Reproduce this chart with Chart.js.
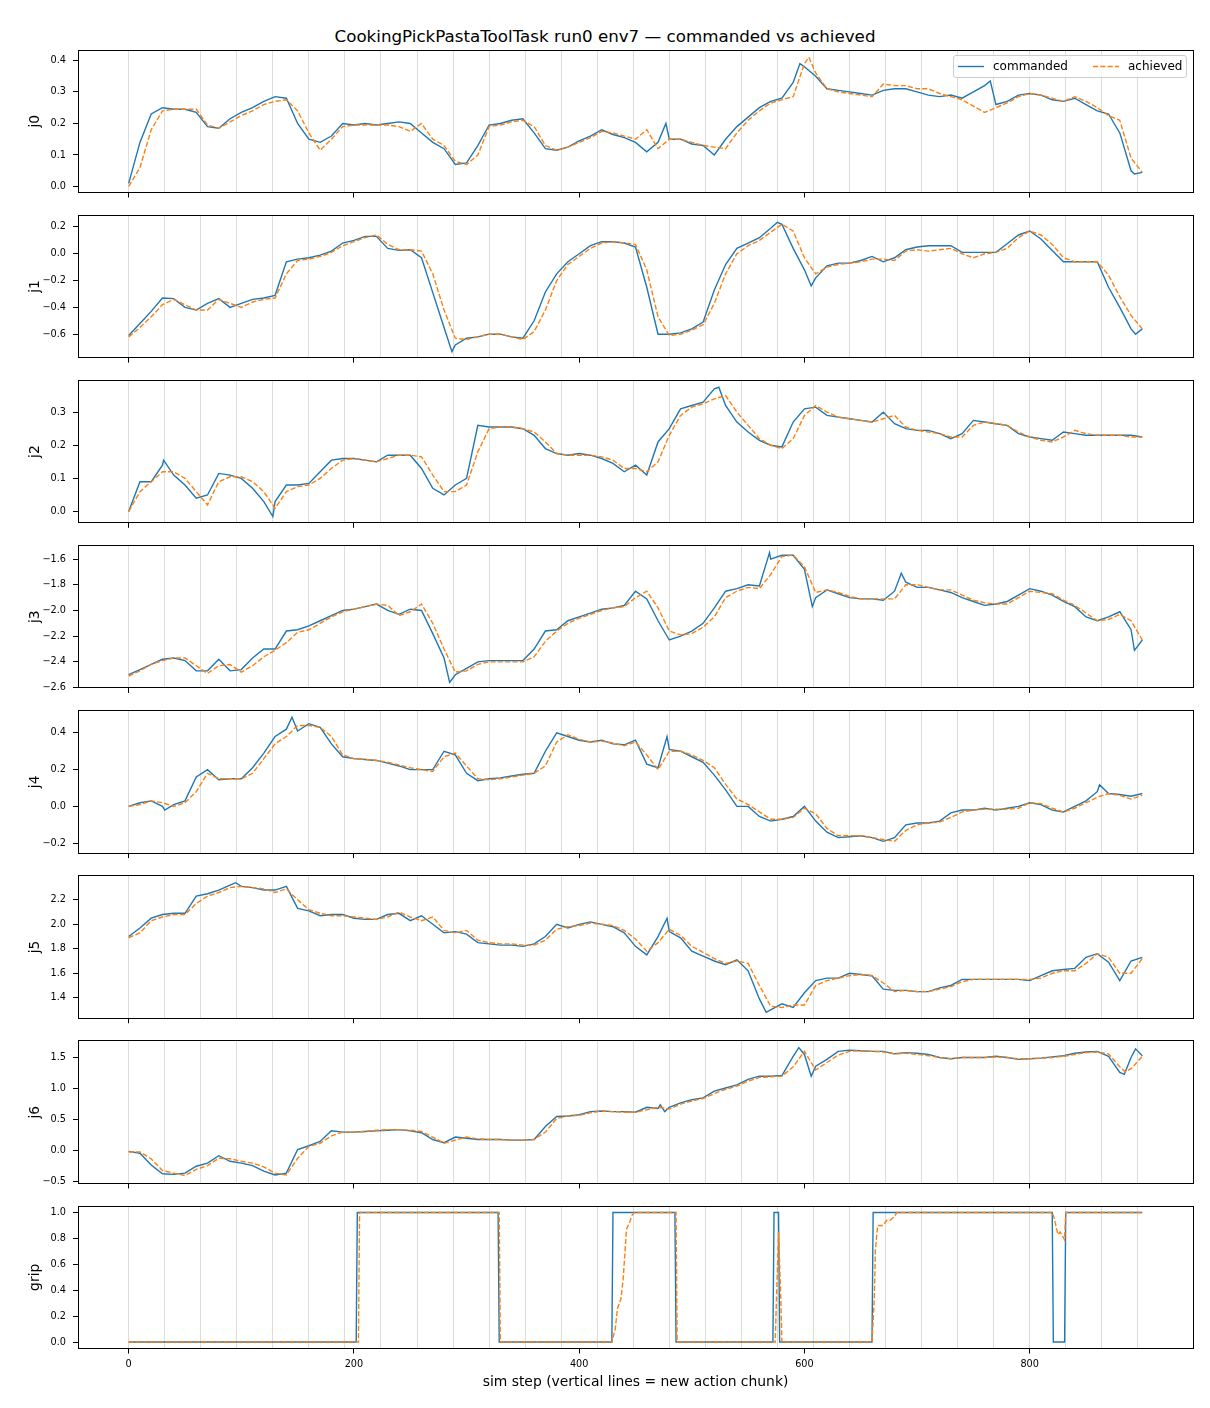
<!DOCTYPE html>
<html>
<head>
<meta charset="utf-8">
<script src="https://cdn.jsdelivr.net/npm/chart.js@4.4.1/dist/chart.umd.min.js"></script>
<style>
  body { margin: 0; background: #fff; }
  #fig { position: relative; width: 1210px; height: 1408px; font-family: "DejaVu Sans", sans-serif; color: #000; }
  #title { position: absolute; left: 0; width: 1210px; top: 25px; line-height: 22px; text-align: center; font-size: 16.7px; }
  canvas { position: absolute; left: 0; }
  #legend { position: absolute; left: 953px; top: 55px; width: 232px; height: 21px; border: 1px solid #cccccc;
            border-radius: 3px; background: rgba(255,255,255,0.8); z-index: 2; font-size: 12px; }
  #legend svg { position: absolute; left: 0; top: 0; }
  #legend span { position: absolute; top: 3px; line-height: 15px; white-space: nowrap; }
</style>
</head>
<body>
<div id="fig">
  <div id="title">CookingPickPastaToolTask run0 env7 — commanded vs achieved</div>
  <div id="legend">
    <svg width="232" height="21">
      <line x1="4" y1="10.5" x2="30" y2="10.5" stroke="#1f77b4" stroke-width="1.4"/>
      <line x1="139" y1="10.5" x2="165" y2="10.5" stroke="#ff7f0e" stroke-width="1.4" stroke-dasharray="5.1 2.2"/>
    </svg>
    <span style="left:39px">commanded</span>
    <span style="left:174px">achieved</span>
  </div>
</div>
<script>
// sim steps sampled from the plot
const STEPS = [
  0, 10, 20, 30, 40, 50, 60, 70, 80, 90,
  100, 110, 120, 130, 140, 150, 160, 170, 180, 190,
  200, 210, 220, 230, 240, 250, 260, 270, 280, 290,
  300, 310, 320, 330, 340, 350, 360, 370, 380, 390,
  400, 410, 420, 430, 440, 450, 460, 470, 480, 490,
  500, 510, 520, 530, 540, 550, 560, 570, 580, 590,
  600, 610, 620, 630, 640, 650, 660, 670, 680, 690,
  700, 710, 720, 730, 740, 750, 760, 770, 780, 790,
  800, 810, 820, 830, 840, 850, 860, 870, 880, 890,
  900
];
const X_TICKS = [0, 200, 400, 600, 800];
const CHUNK_STARTS = [0, 32, 64, 96, 128, 160, 192, 224, 256, 288, 320, 352, 384, 416, 448,
  480, 512, 544, 576, 608, 640, 672, 704, 736, 768, 800, 832, 864, 896];

const J0_CMD = [
  0.01, 0.14, 0.23, 0.25, 0.245, 0.245, 0.235, 0.19, 0.185, 0.215,
  0.235, 0.25, 0.27, 0.285, 0.28, 0.2, 0.15, 0.14, 0.16, 0.2,
  0.195, 0.2, 0.195, 0.2, 0.205, 0.2, 0.17, 0.14, 0.12, 0.07,
  0.075, 0.13, 0.195, 0.2, 0.21, 0.215, 0.17, 0.12, 0.115, 0.125,
  0.145, 0.16, 0.18, 0.165, 0.155, 0.14, 0.11, 0.14, 0.15, 0.15,
  0.135, 0.13, 0.1, 0.15, 0.19, 0.22, 0.25, 0.27, 0.28, 0.33,
  0.38, 0.35, 0.31, 0.305, 0.3, 0.295, 0.29, 0.305, 0.31, 0.31,
  0.3, 0.29, 0.285, 0.29, 0.28, 0.3, 0.32, 0.26, 0.27, 0.29,
  0.295, 0.29, 0.275, 0.27, 0.28, 0.26, 0.24, 0.23, 0.17, 0.05,
  0.045
];
const J0_ACH = [
  0.0, 0.06, 0.18, 0.24, 0.245, 0.245, 0.245, 0.195, 0.185, 0.205,
  0.225, 0.24, 0.26, 0.27, 0.275, 0.24, 0.17, 0.115, 0.15, 0.19,
  0.195, 0.195, 0.195, 0.195, 0.19, 0.175, 0.2, 0.15, 0.13, 0.08,
  0.07, 0.1, 0.19, 0.195, 0.205, 0.21, 0.19, 0.13, 0.115, 0.125,
  0.14, 0.155, 0.175, 0.17, 0.16, 0.15, 0.18, 0.12, 0.15, 0.15,
  0.14, 0.13, 0.125, 0.12, 0.17, 0.21, 0.24, 0.265, 0.275, 0.285,
  0.39, 0.36, 0.31, 0.3, 0.295, 0.29, 0.285, 0.325, 0.32, 0.32,
  0.31, 0.31, 0.295, 0.285, 0.275, 0.255, 0.235, 0.25, 0.265, 0.285,
  0.295, 0.29, 0.28, 0.27, 0.285, 0.27, 0.25, 0.225, 0.21, 0.09,
  0.045
];

const J1_CMD = [
  -0.61, -0.52, -0.43, -0.33, -0.335, -0.4, -0.42, -0.37, -0.335, -0.4,
  -0.37, -0.34, -0.33, -0.31, -0.06, -0.04, -0.03, -0.01, 0.02, 0.08,
  0.1, 0.13, 0.13, 0.04, 0.025, 0.03, -0.03, -0.29, -0.55, -0.68,
  -0.63, -0.62, -0.6, -0.6, -0.62, -0.63, -0.5, -0.285, -0.15, -0.06,
  0.0, 0.06, 0.09, 0.09, 0.08, 0.05, -0.25, -0.6, -0.6, -0.59,
  -0.56, -0.51, -0.27, -0.08, 0.04, 0.08, 0.12, 0.19, 0.22, 0.04,
  -0.12, -0.18, -0.09, -0.07, -0.07, -0.05, -0.02, -0.06, -0.03, 0.03,
  0.05, 0.06, 0.06, 0.06, 0.01, 0.01, 0.01, 0.01, 0.075, 0.14,
  0.17, 0.11, 0.025, -0.06, -0.06, -0.06, -0.06, -0.25, -0.4, -0.56,
  -0.56
];
const J1_ACH = [
  -0.62, -0.55, -0.47, -0.38, -0.34, -0.38, -0.42, -0.42, -0.34, -0.37,
  -0.4, -0.36, -0.34, -0.33, -0.15, -0.05, -0.04, -0.02, 0.01, 0.06,
  0.09, 0.12, 0.14, 0.07, 0.03, 0.03, 0.02, -0.15, -0.42, -0.63,
  -0.64, -0.62, -0.6, -0.6, -0.62, -0.64, -0.58, -0.42, -0.2, -0.08,
  -0.02, 0.04, 0.08, 0.09, 0.08, 0.07, -0.12, -0.47, -0.61, -0.6,
  -0.57, -0.53, -0.37, -0.15, 0.0, 0.06, 0.1, 0.16, 0.22, 0.17,
  -0.03, -0.15, -0.1, -0.08, -0.07, -0.06, -0.04, -0.04, -0.05, 0.02,
  0.03, 0.02, 0.03, 0.04, 0.0, -0.03, 0.0, 0.01, 0.04, 0.12,
  0.17, 0.14, 0.07, -0.03, -0.06, -0.06, -0.06, -0.16, -0.32, -0.46,
  -0.56
];

const J2_CMD = [
  0.0, 0.09, 0.09, 0.14, 0.11, 0.08, 0.04, 0.05, 0.115, 0.11,
  0.1, 0.07, 0.03, 0.03, 0.08, 0.08, 0.085, 0.12, 0.155, 0.16,
  0.16, 0.155, 0.15, 0.17, 0.17, 0.17, 0.13, 0.07, 0.05, 0.08,
  0.1, 0.26, 0.255, 0.255, 0.255, 0.25, 0.23, 0.19, 0.175, 0.17,
  0.175, 0.17, 0.16, 0.145, 0.12, 0.14, 0.11, 0.21, 0.25, 0.31,
  0.32, 0.33, 0.37, 0.32, 0.27, 0.24, 0.215, 0.2, 0.195, 0.27,
  0.31, 0.315, 0.29, 0.285, 0.28, 0.275, 0.27, 0.3, 0.265, 0.25,
  0.245, 0.245, 0.235, 0.22, 0.235, 0.275, 0.27, 0.265, 0.26, 0.235,
  0.225, 0.22, 0.215, 0.24, 0.235, 0.23, 0.23, 0.23, 0.23, 0.23,
  0.225
];
const J2_ACH = [
  0.0, 0.06, 0.09, 0.12, 0.12, 0.1, 0.06, 0.02, 0.09, 0.105,
  0.105, 0.09, 0.06, 0.01, 0.06, 0.075, 0.08, 0.1, 0.13, 0.155,
  0.16, 0.155, 0.15, 0.16, 0.17, 0.17, 0.165, 0.11, 0.06, 0.06,
  0.08, 0.18, 0.25, 0.255, 0.255, 0.25, 0.24, 0.21, 0.175, 0.17,
  0.17, 0.17, 0.165, 0.155, 0.13, 0.13, 0.12, 0.15, 0.23, 0.29,
  0.315, 0.325, 0.34, 0.35, 0.3, 0.26, 0.22, 0.2, 0.19, 0.22,
  0.29, 0.32, 0.3, 0.285, 0.28, 0.275, 0.27, 0.28, 0.29, 0.255,
  0.245, 0.24, 0.235, 0.225, 0.225, 0.26, 0.27, 0.265, 0.26, 0.24,
  0.225, 0.215, 0.21, 0.225, 0.245, 0.235, 0.23, 0.23, 0.23, 0.225,
  0.225
];

const J3_CMD = [
  -2.5, -2.46, -2.42, -2.38, -2.37, -2.39, -2.47, -2.47, -2.38, -2.47,
  -2.46, -2.37, -2.3, -2.3, -2.16, -2.15, -2.12, -2.08, -2.04, -2.0,
  -1.99, -1.97, -1.95, -2.0, -2.03, -1.99, -2.0, -2.18, -2.37, -2.5,
  -2.45, -2.4, -2.39, -2.39, -2.39, -2.39, -2.3, -2.16, -2.15, -2.08,
  -2.05, -2.02, -1.99, -1.98, -1.96, -1.85, -1.91, -2.08, -2.23, -2.2,
  -2.16, -2.1, -1.98, -1.85, -1.83, -1.8, -1.81, -1.6, -1.57, -1.57,
  -1.68, -1.9, -1.84, -1.87, -1.9, -1.91, -1.91, -1.92, -1.85, -1.78,
  -1.82, -1.82, -1.84, -1.86, -1.9, -1.93, -1.96, -1.95, -1.93, -1.88,
  -1.83, -1.85, -1.88, -1.93, -1.97, -2.05, -2.08, -2.05, -2.01, -2.15,
  -2.23
];
const J3_ACH = [
  -2.51, -2.47, -2.42, -2.39, -2.37, -2.37, -2.43, -2.49, -2.43, -2.42,
  -2.48, -2.43, -2.36, -2.31, -2.25, -2.17, -2.15, -2.1, -2.05, -2.01,
  -1.99, -1.97, -1.95, -1.96, -2.04, -2.01, -1.95, -2.1, -2.3, -2.48,
  -2.47, -2.42, -2.4, -2.4, -2.4, -2.4, -2.36, -2.24, -2.16, -2.1,
  -2.06, -2.03, -2.0, -1.98, -1.97, -1.9, -1.85, -1.98, -2.16, -2.19,
  -2.18, -2.13, -2.05, -1.9, -1.85, -1.82, -1.83, -1.72, -1.58, -1.57,
  -1.66, -1.86, -1.84, -1.86, -1.89, -1.91, -1.91, -1.91, -1.91, -1.8,
  -1.8, -1.82, -1.84, -1.84, -1.88, -1.92, -1.94, -1.95, -1.95, -1.9,
  -1.85, -1.86, -1.87, -1.92, -1.96, -2.02, -2.08, -2.07, -2.03, -2.08,
  -2.23
];

const J4_CMD = [
  0.0, 0.02, 0.03, 0.0, 0.01, 0.03, 0.16, 0.2, 0.145, 0.15,
  0.15, 0.21, 0.29, 0.38, 0.42, 0.41, 0.45, 0.43, 0.34, 0.27,
  0.26, 0.255, 0.25, 0.235, 0.22, 0.2, 0.2, 0.2, 0.3, 0.28,
  0.18, 0.14, 0.15, 0.155, 0.165, 0.175, 0.18, 0.3, 0.4, 0.38,
  0.36, 0.35, 0.36, 0.34, 0.335, 0.36, 0.23, 0.21, 0.31, 0.3,
  0.27, 0.24, 0.17, 0.09, 0.0, 0.0, -0.055, -0.08, -0.07, -0.055,
  0.0, -0.08, -0.14, -0.17, -0.165, -0.16, -0.17, -0.19, -0.17, -0.1,
  -0.09, -0.09, -0.08, -0.035, -0.02, -0.02, -0.01, -0.02, -0.01, 0.0,
  0.02, 0.01, -0.02, -0.03, 0.0, 0.03, 0.08, 0.07, 0.065, 0.055,
  0.07
];
const J4_ACH = [
  0.0, 0.01, 0.03, 0.02, 0.0, 0.02, 0.08, 0.18, 0.15, 0.15,
  0.15, 0.18, 0.26, 0.34, 0.38, 0.44, 0.44, 0.43, 0.38, 0.28,
  0.26, 0.255, 0.25, 0.24, 0.225, 0.21, 0.2, 0.19, 0.27, 0.29,
  0.22, 0.15, 0.145, 0.15, 0.16, 0.17, 0.18, 0.22, 0.35, 0.39,
  0.365, 0.35, 0.355, 0.345, 0.33, 0.35, 0.28, 0.2, 0.3, 0.3,
  0.28, 0.25, 0.21, 0.12, 0.04, 0.01, -0.03, -0.07, -0.07, -0.06,
  -0.01, -0.04, -0.12, -0.16, -0.16, -0.16, -0.17, -0.18, -0.19, -0.13,
  -0.1, -0.09, -0.085, -0.06, -0.03, -0.02, -0.015, -0.015, -0.015, -0.01,
  0.02, 0.015, -0.01, -0.03, -0.01, 0.02, 0.05, 0.07, 0.06, 0.04,
  0.06
];

const J5_CMD = [
  1.9, 1.97, 2.05, 2.08, 2.09, 2.09, 2.23, 2.25, 2.28, 2.32,
  2.31, 2.3, 2.28, 2.28, 2.31, 2.13, 2.11, 2.07, 2.08, 2.08,
  2.05, 2.04, 2.04, 2.08, 2.09, 2.03, 2.07, 2.0, 1.93, 1.94,
  1.92, 1.85, 1.84, 1.83, 1.83, 1.82, 1.84, 1.9, 2.0, 1.97,
  2.0, 2.02, 2.0, 1.98, 1.93, 1.82, 1.75, 1.9, 1.94, 1.89,
  1.78, 1.74, 1.7, 1.67, 1.71, 1.62, 1.39, 1.3, 1.35, 1.32,
  1.44, 1.54, 1.56, 1.56, 1.6, 1.59, 1.58, 1.47, 1.46, 1.46,
  1.45, 1.45, 1.48, 1.5, 1.55, 1.55, 1.55, 1.55, 1.55, 1.55,
  1.54, 1.58, 1.62, 1.63, 1.64, 1.73, 1.76, 1.69, 1.54, 1.7,
  1.73
];
const J5_ACH = [
  1.89, 1.93, 2.03, 2.06, 2.08, 2.08, 2.17, 2.23, 2.26, 2.3,
  2.31, 2.3, 2.29, 2.26, 2.29, 2.2, 2.12, 2.09, 2.07, 2.07,
  2.06, 2.05, 2.04, 2.06, 2.1, 2.06, 2.03, 2.06, 1.95, 1.93,
  1.95, 1.87, 1.85, 1.84, 1.84, 1.83, 1.83, 1.87, 1.96, 1.98,
  1.99, 2.01, 2.0, 1.99, 1.95, 1.88, 1.78, 1.85, 1.96, 1.91,
  1.82, 1.77, 1.72, 1.68, 1.7, 1.68, 1.5, 1.33, 1.32, 1.34,
  1.34, 1.5, 1.54, 1.56, 1.58, 1.59, 1.58, 1.52, 1.45, 1.46,
  1.45, 1.45, 1.47, 1.49, 1.53, 1.55, 1.55, 1.55, 1.55, 1.55,
  1.55, 1.56, 1.6, 1.62, 1.62, 1.68, 1.76, 1.73, 1.6, 1.6,
  1.72
];

const J6_CMD = [
  -0.01, -0.04, -0.23, -0.37, -0.38, -0.36, -0.25, -0.2, -0.08, -0.17,
  -0.2, -0.24, -0.33, -0.39, -0.36, 0.02, 0.08, 0.15, 0.32, 0.3,
  0.3, 0.31, 0.32, 0.33, 0.34, 0.32, 0.29, 0.18, 0.13, 0.22,
  0.2, 0.18, 0.18, 0.18, 0.17, 0.17, 0.18, 0.39, 0.55, 0.56,
  0.58, 0.63, 0.64, 0.63, 0.63, 0.62, 0.7, 0.68, 0.7, 0.77,
  0.82, 0.85, 0.96, 1.01, 1.06, 1.15, 1.2, 1.2, 1.21, 1.52,
  1.55, 1.36, 1.47, 1.6, 1.62, 1.61, 1.6, 1.6, 1.56, 1.58,
  1.57, 1.55, 1.5, 1.48, 1.5, 1.5, 1.5, 1.52, 1.5, 1.47,
  1.48, 1.49, 1.51, 1.53, 1.57, 1.59, 1.6, 1.52, 1.26, 1.5,
  1.53
];
const J6_ACH = [
  -0.02, -0.02, -0.13, -0.32, -0.36, -0.4, -0.3, -0.24, -0.12, -0.13,
  -0.17, -0.2, -0.26, -0.36, -0.39, -0.12, 0.07, 0.12, 0.24, 0.3,
  0.3, 0.31, 0.33, 0.34, 0.34, 0.33, 0.31, 0.22, 0.12, 0.17,
  0.22, 0.19, 0.18, 0.18, 0.17, 0.17, 0.18, 0.3, 0.52, 0.56,
  0.57, 0.61, 0.64, 0.63, 0.62, 0.62, 0.66, 0.7, 0.67, 0.75,
  0.8, 0.84, 0.92, 0.99, 1.04, 1.12, 1.18, 1.19, 1.2, 1.35,
  1.6, 1.3, 1.42, 1.54, 1.6, 1.61, 1.6, 1.59, 1.56, 1.57,
  1.55, 1.53, 1.5, 1.48, 1.5, 1.5, 1.5, 1.51, 1.5, 1.48,
  1.48, 1.49, 1.5, 1.52, 1.55, 1.58, 1.59, 1.56, 1.35, 1.32,
  1.52
];

// sharp spikes that fall between the 10-step samples
const J0_CMD_SPIKE_STEPS = [477, 596, 765, 893];
const J0_CMD_SPIKES = [0.2, 0.39, 0.335, 0.04];
const J0_ACH_SPIKE_STEPS = [604];
const J0_ACH_SPIKES = [0.41];
const J1_CMD_SPIKE_STEPS = [287, 576, 606, 894];
const J1_CMD_SPIKES = [-0.73, 0.235, -0.24, -0.6];
const J2_CMD_SPIKE_STEPS = [31, 128, 524];
const J2_CMD_SPIKES = [0.155, -0.015, 0.375];
const J3_CMD_SPIKE_STEPS = [285, 569, 607, 686, 893];
const J3_CMD_SPIKES = [-2.56, -1.55, -1.97, -1.71, -2.31];
const J4_CMD_SPIKE_STEPS = [32, 145, 478, 862];
const J4_CMD_SPIKES = [-0.02, 0.485, 0.38, 0.118];
const J5_CMD_SPIKE_STEPS = [95, 478, 566];
const J5_CMD_SPIKES = [2.34, 2.05, 1.28];
const J6_CMD_SPIKE_STEPS = [472, 476, 595, 606, 884, 894];
const J6_CMD_SPIKES = [0.74, 0.63, 1.66, 1.2, 1.23, 1.64];
const J6_ACH_SPIKE_STEPS = [885];
const J6_ACH_SPIKES = [1.27];
const NO_STEPS = [];
const NO_SPIKES = [];

// gripper: open/closed switches
const GRIP_CMD_STEPS = [0, 202, 203, 328, 329, 429, 430, 485, 486, 572, 573, 577, 578,
  660, 661, 820, 821, 831, 832, 900];
const GRIP_CMD = [0, 0, 1, 1, 0, 0, 1, 1, 0, 0, 1, 1, 0,
  0, 1, 1, 0, 0, 1, 1];
const GRIP_ACH_STEPS = [0, 204, 205, 329, 330, 429, 432, 434, 437, 439, 442, 445, 447, 449,
  486, 487, 574, 577, 579, 580, 660, 662, 663, 665, 670, 673, 676, 680, 682,
  820, 822, 825, 827, 829, 831, 832, 900];
const GRIP_ACH = [0, 0, 1, 1, 0, 0, 0.1, 0.26, 0.33, 0.48, 0.87, 0.93, 0.98, 1,
  1, 0, 0, 0.85, 0.33, 0, 0, 0.33, 0.71, 0.9, 0.9, 0.94, 0.94, 0.97, 1,
  1, 0.95, 0.83, 0.85, 0.82, 0.79, 1, 1];

const J0_TICKS = [0, 0.1, 0.2, 0.3, 0.4];
const J1_TICKS = [-0.6, -0.4, -0.2, 0, 0.2];
const J2_TICKS = [0, 0.1, 0.2, 0.3];
const J3_TICKS = [-2.6, -2.4, -2.2, -2.0, -1.8, -1.6];
const J4_TICKS = [-0.2, 0, 0.2, 0.4];
const J5_TICKS = [1.4, 1.6, 1.8, 2.0, 2.2];
const J6_TICKS = [-0.5, 0, 0.5, 1.0, 1.5];
const GRIP_TICKS = [0, 0.2, 0.4, 0.6, 0.8, 1.0];

const pts = (xs, ys) => xs.map((x, i) => ({ x: x, y: ys[i] }));
// sampled points plus the extra spike points, in step order
const withSpikes = (xs, ys, sx, sy) => pts(xs, ys).concat(pts(sx, sy)).sort((a, b) => a.x - b.x);

const PANELS = [
  { label: "j0", cmd: withSpikes(STEPS, J0_CMD, J0_CMD_SPIKE_STEPS, J0_CMD_SPIKES),
    ach: withSpikes(STEPS, J0_ACH, J0_ACH_SPIKE_STEPS, J0_ACH_SPIKES), ticks: J0_TICKS, min: -0.019, max: 0.433 },
  { label: "j1", cmd: withSpikes(STEPS, J1_CMD, J1_CMD_SPIKE_STEPS, J1_CMD_SPIKES),
    ach: withSpikes(STEPS, J1_ACH, NO_STEPS, NO_SPIKES), ticks: J1_TICKS, min: -0.775, max: 0.288 },
  { label: "j2", cmd: withSpikes(STEPS, J2_CMD, J2_CMD_SPIKE_STEPS, J2_CMD_SPIKES),
    ach: withSpikes(STEPS, J2_ACH, NO_STEPS, NO_SPIKES), ticks: J2_TICKS, min: -0.034, max: 0.396 },
  { label: "j3", cmd: withSpikes(STEPS, J3_CMD, J3_CMD_SPIKE_STEPS, J3_CMD_SPIKES),
    ach: withSpikes(STEPS, J3_ACH, NO_STEPS, NO_SPIKES), ticks: J3_TICKS, min: -2.603, max: -1.494 },
  { label: "j4", cmd: withSpikes(STEPS, J4_CMD, J4_CMD_SPIKE_STEPS, J4_CMD_SPIKES),
    ach: withSpikes(STEPS, J4_ACH, NO_STEPS, NO_SPIKES), ticks: J4_TICKS, min: -0.254, max: 0.521 },
  { label: "j5", cmd: withSpikes(STEPS, J5_CMD, J5_CMD_SPIKE_STEPS, J5_CMD_SPIKES),
    ach: withSpikes(STEPS, J5_ACH, NO_STEPS, NO_SPIKES), ticks: J5_TICKS, min: 1.232, max: 2.397 },
  { label: "j6", cmd: withSpikes(STEPS, J6_CMD, J6_CMD_SPIKE_STEPS, J6_CMD_SPIKES),
    ach: withSpikes(STEPS, J6_ACH, J6_ACH_SPIKE_STEPS, J6_ACH_SPIKES), ticks: J6_TICKS, min: -0.526, max: 1.768 },
  { label: "grip", cmd: pts(GRIP_CMD_STEPS, GRIP_CMD), ach: pts(GRIP_ACH_STEPS, GRIP_ACH),
    ticks: GRIP_TICKS, min: -0.05, max: 1.05 }
];

const FONT = "DejaVu Sans";
const TOPS = [50, 215.15, 380.3, 545.45, 710.6, 875.75, 1040.9, 1206.05];
const PLOT_H = 142.5;
const PAD = 14;          // room above each plot for the top tick label
const BELOW = 17;        // room below each plot for the tick marks

const fmt = v => Number(v).toFixed(1).replace("-", "\u2212");
const align = v => Math.round(v - 0.5) + 0.5;

// black box round the plot area, like matplotlib spines
const framePlugin = {
  id: "frame",
  afterDraw(chart) {
    const { ctx, chartArea: a } = chart;
    const l = align(a.left), t = align(a.top), r = align(a.right), b = align(a.bottom);
    ctx.save();
    ctx.strokeStyle = "#000";
    ctx.lineWidth = 1;
    ctx.strokeRect(l, t, r - l, b - t);
    ctx.restore();
  }
};

const fig = document.getElementById("fig");

PANELS.forEach((p, i) => {
  const last = i === PANELS.length - 1;
  const top = Math.floor(TOPS[i]) - PAD;
  const padTop = TOPS[i] - top;
  const h = last ? 1408 - top : Math.ceil(padTop + PLOT_H + BELOW);
  const xh = h - padTop - PLOT_H;

  const cv = document.createElement("canvas");
  cv.width = 1210;
  cv.height = h;
  cv.style.top = top + "px";
  fig.appendChild(cv);

  new Chart(cv, {
    type: "line",
    data: {
      datasets: [
        { label: "commanded", data: p.cmd, borderColor: "#1f77b4", borderWidth: 1.4,
          pointRadius: 0, tension: 0, order: 1, xAxisID: "x", yAxisID: "y" },
        { label: "achieved", data: p.ach, borderColor: "#ff7f0e", borderWidth: 1.4,
          borderDash: [5.1, 2.2], pointRadius: 0, tension: 0, order: 0, xAxisID: "x", yAxisID: "y" }
      ]
    },
    options: {
      responsive: false,
      animation: false,
      events: [],
      layout: { padding: { top: padTop, left: 0, right: 17, bottom: 0 } },
      plugins: { legend: { display: false }, tooltip: { enabled: false } },
      scales: {
        x: {
          type: "linear", axis: "x", position: "bottom", min: -45, max: 945,
          afterBuildTicks: s => { s.ticks = X_TICKS.map(v => ({ value: v })); },
          ticks: { display: last, color: "#000", font: { family: FONT, size: 9.7 }, padding: 5,
                   maxRotation: 0, autoSkip: false, callback: v => String(v) },
          grid: { drawOnChartArea: false, drawTicks: true, tickLength: 5, color: "#000", lineWidth: 1 },
          border: { display: false },
          title: { display: last, text: "sim step (vertical lines = new action chunk)", color: "#000",
                   font: { family: FONT, size: 13.9 }, padding: { top: 0, bottom: 17 } },
          afterFit: s => { s.height = xh; }
        },
        chunks: {
          type: "linear", axis: "x", position: "bottom", min: -45, max: 945,
          afterBuildTicks: s => { s.ticks = CHUNK_STARTS.map(v => ({ value: v })); },
          ticks: { display: false },
          grid: { drawOnChartArea: true, drawTicks: false, color: "#dcdcdc", lineWidth: 1 },
          border: { display: false },
          afterFit: s => { s.height = 0; }
        },
        y: {
          type: "linear", position: "left", min: p.min, max: p.max,
          afterBuildTicks: s => { s.ticks = p.ticks.map(v => ({ value: v })); },
          ticks: { color: "#000", font: { family: FONT, size: 9.7 }, padding: 7, callback: v => fmt(v) },
          grid: { drawOnChartArea: false, drawTicks: true, tickLength: 5, color: "#000", lineWidth: 1 },
          border: { display: false },
          title: { display: true, text: p.label, color: "#000", font: { family: FONT, size: 13.9 },
                   padding: { top: 27, bottom: 0 } },
          afterFit: s => { s.width = 78; }
        }
      }
    },
    plugins: [framePlugin]
  });
});
</script>
</body>
</html>
